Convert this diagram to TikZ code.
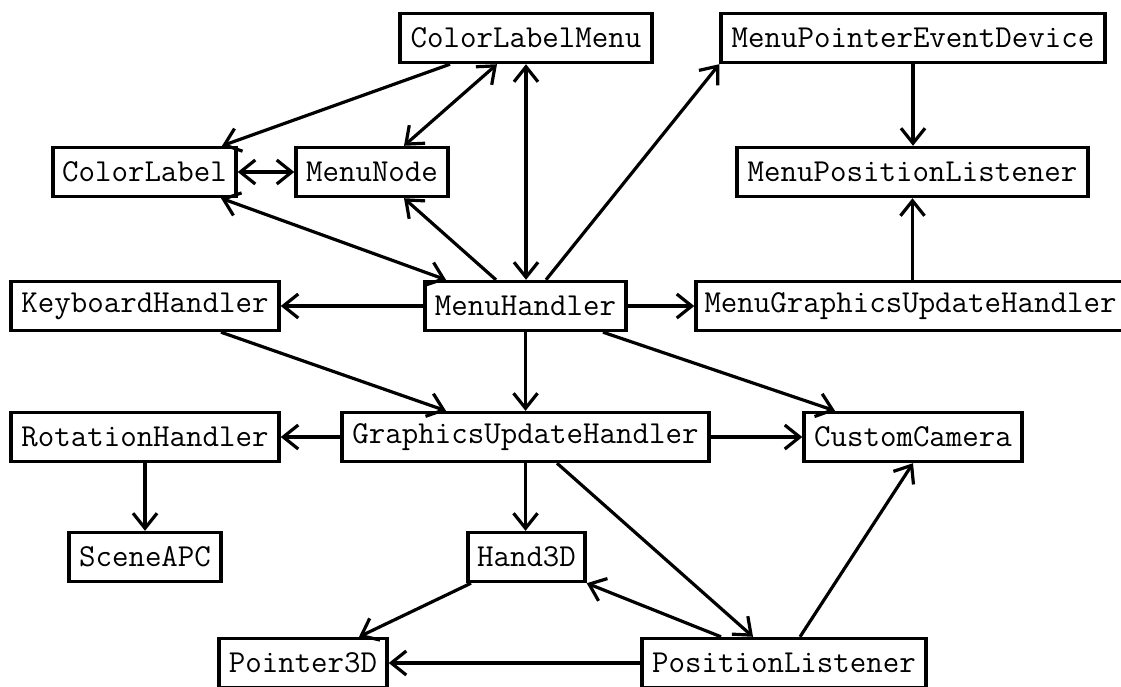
\documentclass[tikz,border=0pt]{standalone}
\usetikzlibrary{arrows.meta}
\begin{document}
\begin{tikzpicture}[x=1pt,y=1pt,
  cls/.style={draw=black,line width=3.4pt,fill=white,rectangle,inner xsep=2pt,inner ysep=0pt,
    minimum height=49pt,font=\ttfamily\fontsize{32}{35}\selectfont,anchor=center},
  tip/.tip={Straight Barb[length=15pt,width=24pt]},
  link/.style={line width=3.2pt,-tip},
  blink/.style={line width=3.2pt,tip-tip}]
\clip (0,0) rectangle (1121,-686);
\fill[white] (0,0) rectangle (1121,-686);
\node[cls,minimum width=252pt] (clm) at (526,-38) {ColorLabelMenu};
\node[cls,minimum width=384pt] (mped) at (913,-38) {MenuPointerEventDevice};
\node[cls,minimum width=183pt] (cl) at (144.5,-172) {ColorLabel};
\node[cls,minimum width=152pt] (mn) at (372,-172) {MenuNode};
\node[cls,minimum width=351pt] (mpl) at (912.5,-172) {MenuPositionListener};
\node[cls,minimum width=268pt] (kh) at (145,-306) {KeyboardHandler};
\node[cls,minimum width=201pt] (mh) at (525.5,-306) {MenuHandler};
\node[cls,minimum width=429pt] (mguh) at (910.5,-306) {MenuGraphicsUpdateHandler};
\node[cls,minimum width=268pt] (rh) at (145,-437) {RotationHandler};
\node[cls,minimum width=367pt] (guh) at (525.5,-437) {GraphicsUpdateHandler};
\node[cls,minimum width=218pt] (cc) at (913,-437) {CustomCamera};
\node[cls,minimum width=152pt] (sa) at (145,-557) {SceneAPC};
\node[cls,minimum width=117pt] (h3) at (526.5,-557) {Hand3D};
\node[cls,minimum width=168pt] (p3) at (303,-663) {Pointer3D};
\node[cls,minimum width=284pt] (pl) at (784,-663) {PositionListener};

\draw[link] ([xshift=-76pt]clm.south) -- ([xshift=77.5pt]cl.north);
\draw[blink] ([xshift=-29pt]clm.south) -- ([xshift=32pt]mn.north);
\draw[blink] (clm.south) -- (clm.south |- mh.north);
\draw[blink] (cl.east) -- (mn.west);
\draw[blink] ([xshift=76.5pt]cl.south) -- ([xshift=-79.5pt]mh.north);
\draw[link] ([xshift=-29.5pt]mh.north) -- ([xshift=32pt]mn.south);
\draw[link] ([xshift=20.5pt]mh.north) -- (mped.south west);
\draw[link] (mped.south) -- (mped.south |- mpl.north);
\draw[link] (mpl.south |- mguh.north) -- (mpl.south);
\draw[link] (mh.west) -- (kh.east);
\draw[link] (mh.east) -- (mguh.west);
\draw[link] ([xshift=76pt]kh.south) -- ([xshift=-79.5pt]guh.north);
\draw[link] (mh.south) -- (guh.north);
\draw[link] ([xshift=77.5pt]mh.south) -- ([xshift=-78pt]cc.north);
\draw[link] (guh.west) -- (rh.east);
\draw[link] (guh.east) -- (cc.west);
\draw[link] (rh.south) -- (sa.north);
\draw[link] (guh.south) -- (guh.south |- h3.north);
\draw[link] ([xshift=31.5pt]guh.south) -- ([xshift=-31pt]pl.north);
\draw[link] ([xshift=-63pt]pl.north) -- (h3.south east);
\draw[link] ([xshift=16pt]pl.north) -- (cc.south);
\draw[link] ([xshift=-55.5pt]h3.south) -- ([xshift=56pt]p3.north);
\draw[link] (pl.west) -- (p3.east);
\end{tikzpicture}
\end{document}
